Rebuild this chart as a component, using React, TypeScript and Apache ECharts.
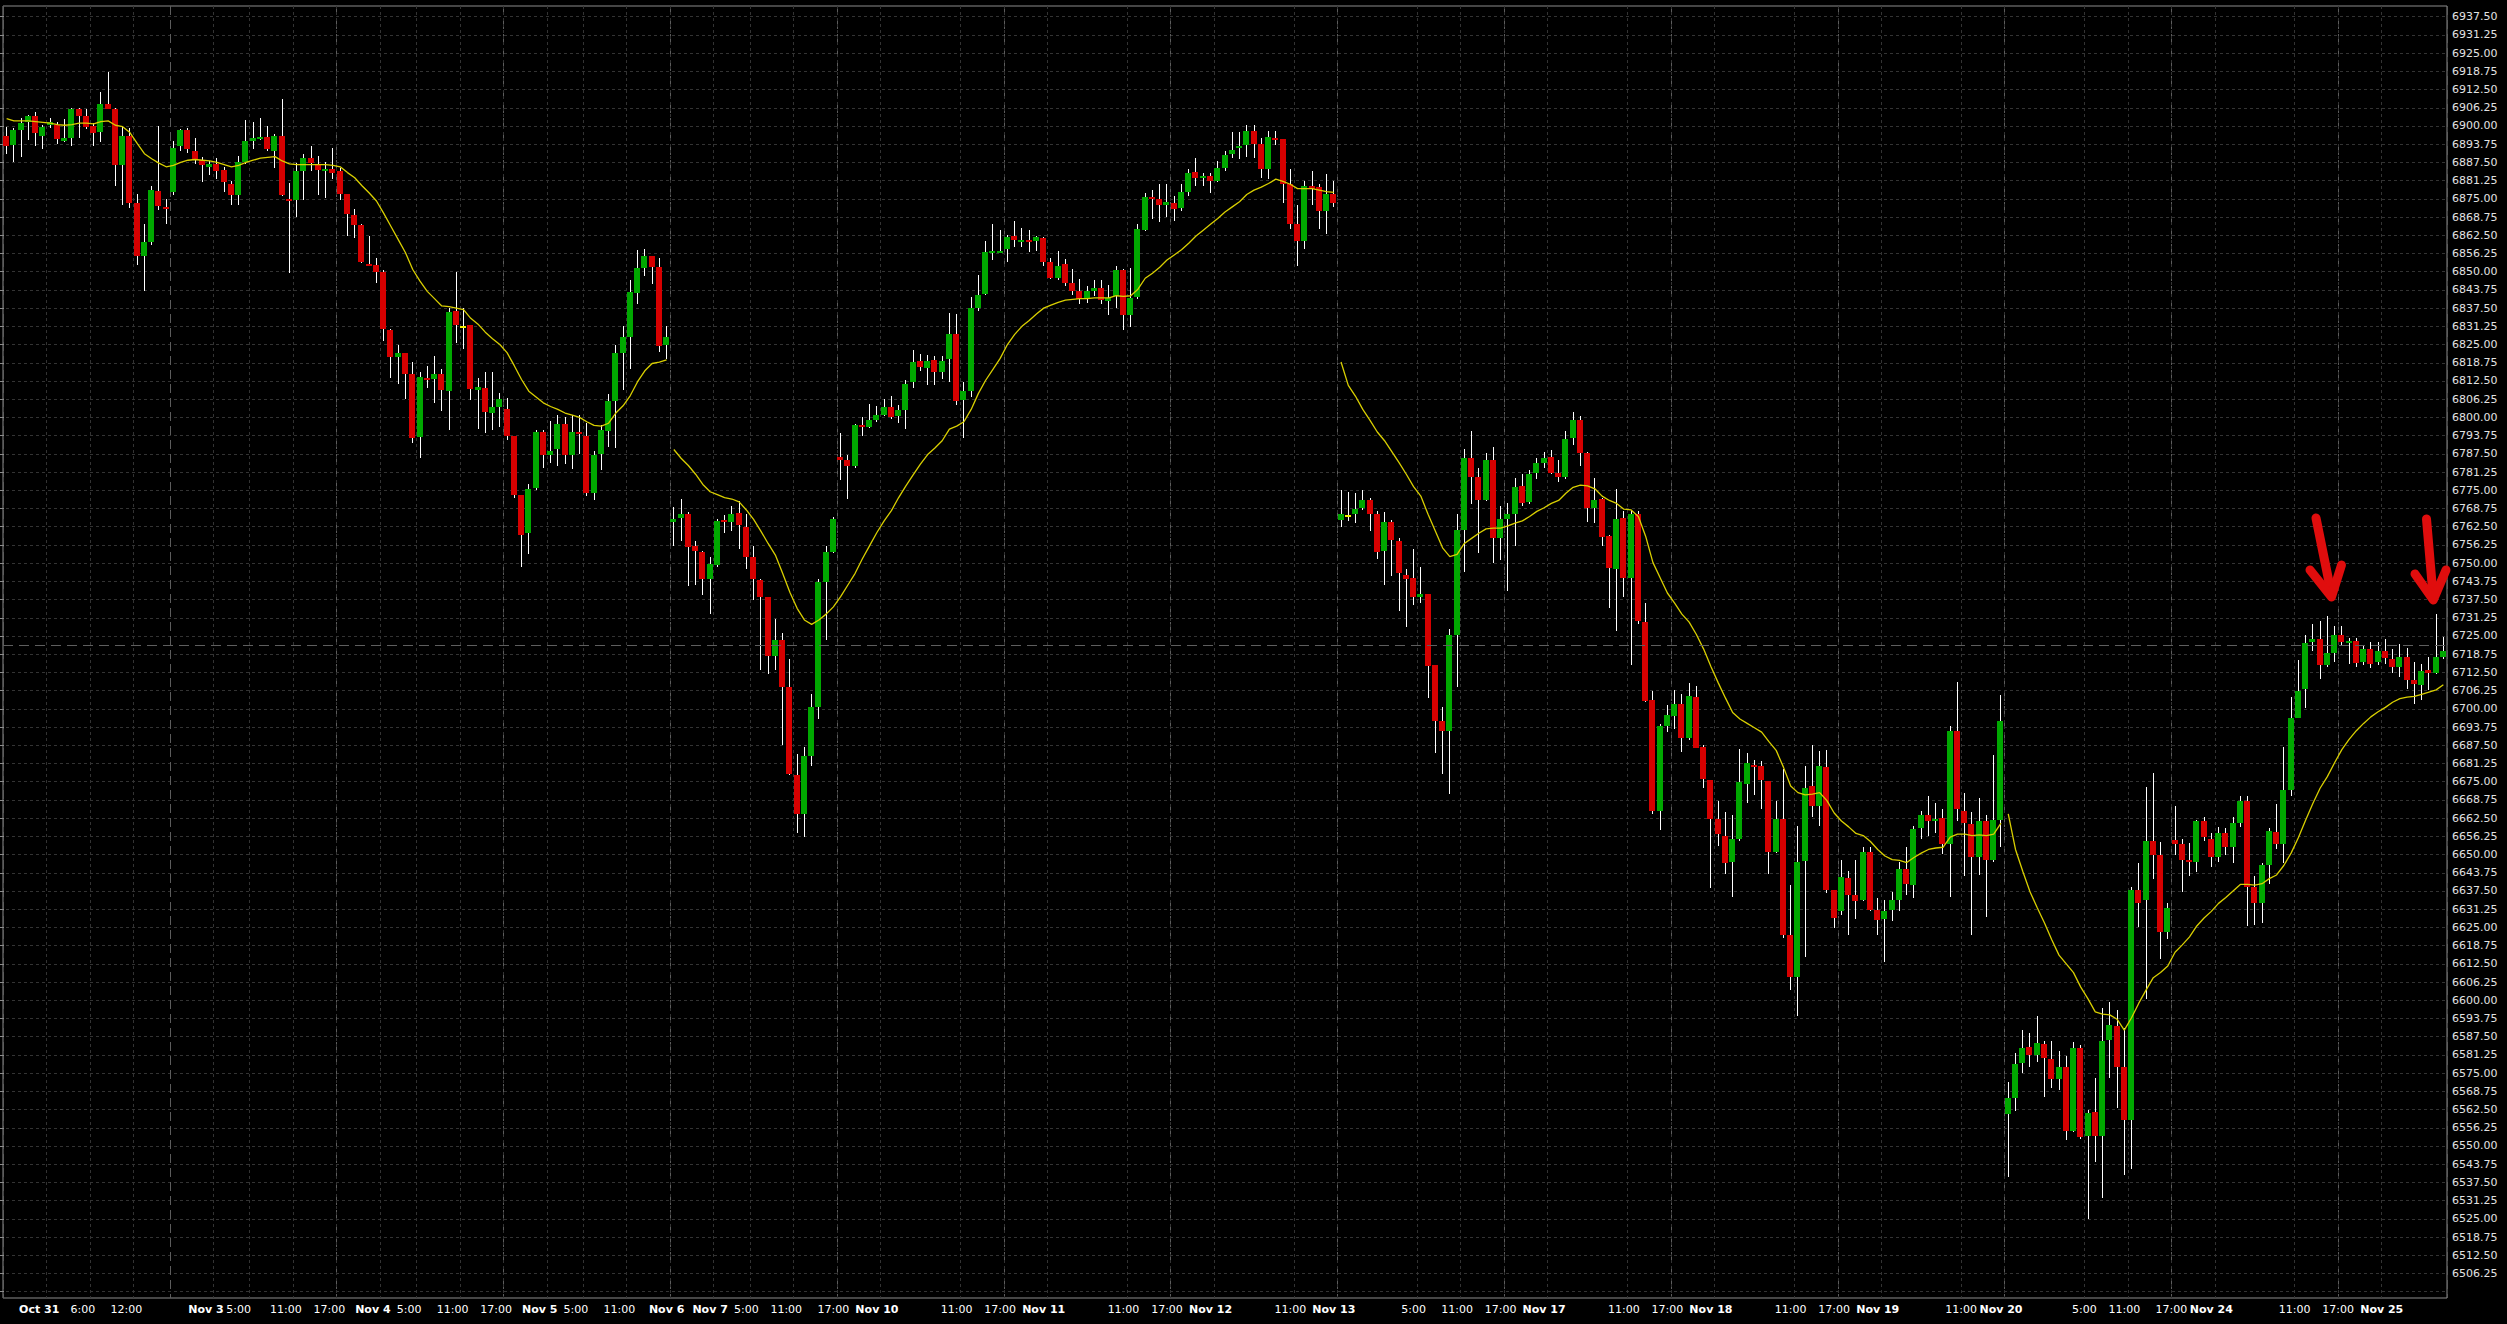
import React, { useEffect, useRef } from 'react';
import * as echarts from 'echarts';

// Hourly bars: [open, high, low, close]
const BARS: number[][] = [
  [6896.5,6899.75,6890.5,6893.25],[6893.5,6899.25,6887.5,6898.5],[6898.75,6902.75,6889.25,6901],[6901.25,6903.75,6895.25,6903.5],
  [6903.5,6904.75,6893,6897.5],[6896.5,6900.5,6892.25,6899.75],[6900.25,6902.75,6899.25,6901.25],[6900.5,6901.25,6893.75,6895.5],
  [6895,6902.25,6894.5,6896],[6896,6906.25,6893,6906],[6906,6906.25,6896,6903.5],[6903.5,6905.75,6899,6899.75],
  [6900,6901,6893,6897.75],[6898,6911.5,6894.5,6907.5],[6907.5,6918.5,6906,6906],[6906,6906.25,6879.5,6886.5],
  [6886.5,6899.75,6873,6896.5],[6896.5,6899.25,6872,6873.5],[6873.5,6876.5,6852.25,6855.25],[6855.25,6866.5,6843.25,6860.25],
  [6860.25,6879.5,6859.25,6878],[6877.75,6900,6871.25,6872.5],[6872.25,6875,6866.5,6871.75],
  [6877.5,6895,6876.25,6892.5],[6893,6899,6891.5,6898.5],[6898.5,6899.25,6890.75,6892],[6891.5,6896,6887,6888.5],
  [6888.5,6889.25,6880.75,6886.5],[6886,6888,6883.25,6887],[6887,6889,6881.75,6884.5],[6885,6886,6877.25,6880.75],
  [6880.25,6881,6873,6876.25],[6876.25,6889.75,6873,6887.5],[6887.5,6902,6887,6895],[6895,6901.25,6892,6896],
  [6895.75,6902.75,6895.25,6896.25],[6896.25,6900,6891.5,6892],[6891.5,6897.25,6885.5,6896.5],[6896.5,6909.25,6876,6876.25],
  [6875,6880.5,6849.5,6874.5],[6874.5,6887.25,6868.75,6884.5],[6884.5,6890.5,6874.5,6889],[6889,6893.25,6884.5,6887.25],
  [6886.75,6889.75,6876.25,6885],[6884.75,6887.5,6875.25,6885.25],[6885.25,6892.5,6881.75,6884],
  [6884.5,6885.5,6874.5,6876.5],[6876.5,6876.5,6862.25,6869.75],[6869.5,6871.5,6861.5,6866],[6866,6866.25,6853,6853.25],
  [6852.75,6862.25,6852,6852],[6852.25,6854.75,6846,6849.75],[6849.75,6850.5,6826.25,6830.5],[6830,6830.5,6813.5,6820.75],
  [6820.75,6824.75,6811.5,6822],[6822,6822,6806.25,6814.75],[6814.75,6819,6791.25,6793],[6793.25,6815.5,6786,6813.75],
  [6813.5,6817.5,6810.25,6812.75],[6813.25,6821,6805,6814.75],[6814.75,6816.5,6802.25,6809.25],[6809,6837.5,6795.75,6836.25],
  [6836.5,6849.75,6825.5,6831.75],[6831.25,6837.5,6823.5,6831.25],[6831.75,6831.75,6806,6809.75],[6809.25,6813.5,6796,6810.5],
  [6810.25,6815.75,6794.75,6801.75],[6801.5,6815.5,6795.75,6803.5],[6803.5,6808.5,6796.75,6806.25],
  [6803,6806.5,6792.25,6793.5],[6793.5,6793.5,6772.5,6773.5],[6773.5,6773.5,6748.75,6759.75],[6760.5,6777,6753.25,6775.5],
  [6775.75,6795.75,6775,6795],[6795,6795.75,6782.5,6787.25],[6787.25,6798.75,6784.5,6788.5],[6789.25,6801,6783.5,6797.75],
  [6797.75,6800,6784,6787.25],[6787.25,6800.75,6782.25,6795],[6795,6800.75,6787.5,6794.25],[6793.75,6798,6773,6774],
  [6774,6788.5,6771.5,6787.25],[6787.5,6797.5,6782,6795.75],[6795.5,6808,6790,6805.5],[6805.5,6824.75,6789.5,6822.25],
  [6822.25,6831.5,6809.25,6827.5],[6827.5,6847,6816.5,6843],[6842.75,6857.5,6838.75,6851.25],[6851.25,6857.75,6848.5,6855.5],
  [6855.25,6855.25,6845.75,6851.5],[6851.5,6854.75,6822.5,6824.5],[6825,6831.25,6820,6827.5],
  [6764.25,6769.25,6755.75,6765.25],[6765.5,6772,6757.5,6766.75],[6766.75,6767.5,6742.25,6755.5],[6755.75,6757.5,6742.5,6754],
  [6753.75,6754,6739,6744.5],[6744.5,6752,6732.5,6749.75],[6749.5,6765.25,6748.75,6764.5],[6764.75,6766.5,6760.5,6764.25],
  [6764.25,6769.75,6761,6767],[6767.25,6771.25,6755,6763],[6762.5,6766.75,6748,6752.25],[6752,6756,6737.25,6744.5],
  [6744.25,6744.5,6713.25,6738.5],[6738.25,6738.5,6712,6718.25],[6718.25,6731,6713.25,6723.5],[6723.5,6726,6687.75,6707.5],
  [6707.5,6717,6677.25,6677.5],[6677.25,6684.5,6657.25,6664],[6664,6687,6656,6683.75],[6683.75,6705,6680.25,6700.5],
  [6700.5,6744.5,6696.5,6743.5],[6743.5,6756,6723.5,6753.75],[6753.75,6766,6753.5,6765.25],
  [6786.25,6794.75,6778.5,6785.5],[6785.5,6787.25,6772,6783.5],[6783.5,6797.75,6782.75,6797.25],[6797.5,6800,6793.5,6796.75],
  [6796.75,6804.5,6796.25,6799],[6799,6803.75,6798.5,6801],[6801,6806.25,6800.5,6803.5],[6803.5,6807.5,6799.5,6800],
  [6800.5,6804.25,6798,6802.5],[6802.5,6813,6796,6811.5],[6812,6823.25,6810.25,6819],[6819.5,6821.75,6816,6817.25],
  [6817,6821.5,6811,6819.5],[6819.75,6821,6811,6815.5],[6815.5,6821,6813.25,6819.5],[6820,6835.75,6812.25,6828.75],
  [6828.75,6835.5,6804.25,6805.5],[6806,6812.25,6793,6809],[6809,6841.25,6807,6837.5],[6837.5,6849,6836.5,6842],
  [6842.5,6860.5,6842,6856.75],[6856.5,6866.25,6854,6857],[6856.5,6864.25,6856.5,6857],[6857.75,6862.5,6853.5,6862],
  [6862.25,6867.5,6858.5,6860.75],[6860.5,6865,6858.5,6861],[6861,6864.25,6856.75,6860.5],[6860.5,6862.25,6857,6862],
  [6861.5,6862,6852,6853.5],[6853.25,6854.75,6847.5,6847.75],[6847.75,6857,6847,6852],[6852.5,6854.25,6845,6846.25],
  [6846,6851,6842,6843.25],[6843.5,6847.5,6839,6840.5],[6840.5,6845,6839.25,6843.25],[6843.25,6847,6841.75,6844.5],
  [6844.5,6847,6839,6840.25],[6840,6845.5,6835.25,6841],[6841.75,6852,6837.5,6850.5],[6850.5,6851,6830,6835],
  [6835,6851.25,6831,6841],[6841.25,6866.25,6840.5,6864.5],[6864.25,6877,6864,6875.5],[6875.5,6878,6868,6875.25],
  [6875,6880,6867,6873],[6873,6880.25,6868.75,6874],[6873.5,6876,6867.5,6871.5],[6871.75,6880.25,6870.75,6877.25],
  [6877.25,6885.25,6876,6884],[6884.25,6889,6879.5,6882.25],[6882,6883.75,6879.5,6882.75],[6882.75,6884,6877,6881],
  [6881,6888,6880.75,6885.75],[6885.75,6891.5,6884.5,6890],[6890.25,6898,6889,6891.75],[6892.5,6898,6888.75,6893.25],
  [6893.5,6900.25,6889.5,6898.25],[6898.25,6900.25,6889,6893.75],[6893.75,6895.75,6882.25,6885.25],[6885.25,6898.25,6881.75,6896.25],
  [6895.75,6898.25,6893.5,6895.25],[6895.5,6895.5,6873.5,6880.25],[6880.25,6885.25,6864.5,6866.5],[6866.5,6873,6852,6860.5],
  [6860.5,6881,6857.75,6879.25],[6879.25,6884.5,6873,6878.5],[6879,6880,6864.5,6870.75],[6870.75,6883.5,6863,6876.5],
  [6876.5,6881,6872.25,6873.5],
  [6764.75,6775,6762.5,6767],[6766.5,6774.5,6764.5,6766.5],[6766.75,6774,6763.75,6768.5],[6769,6775,6768.25,6771.5],
  [6771.5,6772.5,6761,6767],[6766.75,6768,6751.25,6753.75],[6754.25,6767.5,6742.5,6764],[6764,6764.75,6745.75,6758],
  [6757.5,6758.5,6733.5,6746.5],[6746,6748,6728.25,6744.5],[6745,6754.75,6735.5,6738.5],[6738.5,6748.75,6736.25,6739.25],
  [6739.25,6739.25,6703.75,6714.75],[6715,6715,6685,6695.75],[6695.75,6700.75,6677.75,6692.5],[6692.25,6727.25,6670.75,6725.5],
  [6725.5,6766.75,6707.5,6761.5],[6761.5,6789,6747,6786],[6786,6795.5,6770.25,6779.5],[6779.5,6782.5,6753.5,6771.5],
  [6771.5,6787.75,6771.25,6785.25],[6785.25,6789.75,6750,6758.5],[6758.5,6769.5,6751,6765.25],[6765,6770.5,6740.5,6766.75],
  [6767,6779.25,6755.75,6776],[6776.5,6780.5,6769.75,6770.75],[6771,6782,6770.25,6780.75],[6781,6786,6779,6784.25],
  [6784.5,6788,6782.5,6786],[6786.25,6788.75,6780.75,6781],[6781,6785.5,6777.75,6779.5],[6779.5,6795.25,6779,6792.5],
  [6793,6801.75,6790.5,6799.25],[6799.25,6800.5,6783.5,6787.75],[6787.75,6788,6764.25,6768.75],[6769,6779.25,6763.75,6771.5],
  [6772,6772.25,6755.75,6759],[6759.25,6759.5,6734.5,6748.25],[6748,6775.5,6726.75,6765.25],[6765.5,6768,6738.5,6744.75],
  [6744.75,6768,6715,6767],[6767,6767.75,6729,6730],[6729.75,6736.25,6702.25,6702.75],[6703,6706.25,6664,6665],
  [6665,6694.75,6658.5,6694.25],[6694.25,6701.25,6692,6697.75],[6697.5,6706.5,6693,6701.75],[6701.75,6705.25,6685.25,6690],
  [6690,6709,6689.25,6704.5],[6704,6708,6686.5,6686.5],[6687,6687.5,6673,6676],[6675.75,6675.75,6638.5,6662.25],
  [6662.25,6668.25,6653,6657],[6656.5,6664.5,6643.25,6647],[6647.5,6663.5,6635.5,6655.25],[6655.25,6686.25,6654.5,6674.75],
  [6674.25,6685,6667.75,6681.25],[6680.75,6682.5,6670.5,6680.25],[6680.25,6682.25,6665.75,6675.75],[6675.25,6675.25,6643.25,6650.75],
  [6651,6668.25,6650.5,6662.25],[6662.25,6679.5,6621.5,6622.25],[6622.25,6639.5,6603.5,6608],[6608,6659.75,6594.5,6647.5],
  [6647.75,6680.25,6615,6673],[6673.5,6687.75,6663,6666.75],[6666.75,6685.5,6659.75,6680.25],[6680,6685.75,6636.75,6638],
  [6638,6638,6624.75,6628.25],[6630.75,6648.25,6629.25,6642.25],[6642,6644.25,6622.5,6636.25],[6636,6648,6628,6634],
  [6634.5,6652.5,6634,6651],[6650.75,6652.75,6630.75,6631],[6631,6635,6622.25,6627.5],[6628,6634.25,6613.25,6630.5],
  [6631,6637,6627.25,6634.5],[6634.5,6647.5,6630.5,6645],[6645,6652.75,6636.25,6639.75],[6639.5,6659.75,6635.25,6658.75],
  [6659,6665,6655.25,6663.5],[6663.5,6670,6656.5,6661.5],[6661.5,6667.75,6657.5,6662.25],[6662.5,6665.75,6650.25,6653.5],
  [6653.5,6694.25,6635.5,6692.25],[6692.25,6709.25,6661.5,6665.75],[6665,6671,6642.75,6660.75],[6660.5,6664.75,6622.5,6649],
  [6649,6669.25,6643,6661.5],[6661.5,6663.5,6628.5,6648.25],[6648.25,6684,6647.5,6662],[6662,6704.75,6652.5,6695.75],
  [6561,6572,6539.25,6566.5],[6566.5,6582,6562,6578],[6578.5,6589.75,6575,6583.5],[6584,6588.75,6577,6581.25],
  [6581.25,6594.5,6578.75,6585.25],[6585,6586,6566.75,6580.25],[6579.75,6586,6570,6573],[6573,6582.75,6569.25,6577],
  [6577.25,6581,6552,6555],[6555,6585.75,6554.75,6583.5],[6583.5,6584.75,6552.25,6553],[6553.5,6562.25,6525,6561.25],
  [6561.5,6573.25,6544.5,6553.5],[6553.5,6597.5,6532,6586],[6586.5,6599.5,6573.25,6591.5],[6591.25,6596.75,6563,6577],
  [6577,6590.5,6540,6559],[6559,6639,6542,6638],[6638,6647.25,6625.25,6633.5],[6634.25,6673.25,6600.5,6654.5],
  [6654.5,6678,6641.75,6650],[6649.75,6654.25,6614,6623.5],[6623.5,6633.25,6621,6631.75],
  [6655,6666.5,6650,6653.75],[6653.5,6655.5,6637.25,6648.25],[6648,6654,6642.5,6647.5],[6647.5,6661.75,6644,6661.5],
  [6661.5,6662.75,6654.5,6656],[6655.5,6657.25,6645.75,6649],[6649.25,6659.5,6647.5,6657.25],[6657.25,6659,6650,6652.75],
  [6652.75,6663,6647,6660.75],[6660.75,6670,6659.5,6668.25],[6668.25,6670.25,6625.5,6638.75],[6639,6642.5,6626,6633.5],
  [6633.25,6647,6626.5,6646.25],[6646.25,6659,6639.75,6658],[6657.75,6667.5,6651.75,6653.75],[6653.75,6687,6647,6672],
  [6672,6704,6670.25,6697],[6697,6716.75,6696.75,6706],[6706.75,6725.5,6700.25,6722.5],[6723,6729.25,6720,6724],
  [6724,6730.25,6710.25,6715],[6715,6732,6714.5,6719],[6719,6728.5,6716,6725.5],
  [6725.5,6728.5,6722,6723],[6722.5,6724.25,6715.5,6723.25],[6723.25,6724.25,6714.5,6715.75],[6716,6721.5,6715,6720.5],
  [6720.5,6723,6714,6715.5],[6716,6723,6715,6720],[6720,6724,6715.5,6717.5],[6717,6720.5,6712.25,6714.25],
  [6714.5,6722.25,6711,6717.75],[6717.75,6720.75,6706.75,6710],[6710,6716,6701.75,6708.5],[6708.25,6715.5,6703,6713],
  [6713.25,6717.75,6706.5,6712.25],[6712.25,6732.5,6712,6717.75],[6717.75,6724.75,6717,6720]
];

// Yellow moving average, one value per bar
const MA: number[] = [
  6902.5,6901.75,6901.75,6901.75,6901.5,6901.25,6901,6900.5,6900.25,6900.5,6901,6901,6900.75,6901.5,6901.75,6900.25,
  6899.75,6897.75,6894,6890.5,6888.75,6887.25,6886,6886.5,6887.5,6888.25,6888.5,6888.25,6888,6887.5,6886.75,6886,
  6886.5,6887.5,6888.25,6889,6889.25,6889.5,6888,6887,6886.75,6886.75,6886.75,6886.75,6886.75,6886.5,6886,6884,
  6882.25,6879.5,6877,6874.25,6870,6865.5,6861,6856.5,6850.75,6846.75,6843.25,6840.75,6838.25,6838,6837.5,6837,
  6834,6832,6829.25,6827,6825,6822.25,6817.75,6813,6809,6807,6805,6803.75,6802.75,6801.5,6800.75,6800,
  6798.5,6797.25,6797,6798,6801.5,6804,6807.5,6812.25,6816,6818.5,6819,6819.75,
  6789,6786,6783.5,6780.5,6777,6774.5,6773.5,6772.5,6772,6771,6768.25,6765,6761,6756.75,6752.75,6746.5,
  6740,6734.5,6730.5,6729,6730.5,6732.5,6735,6738.5,6742.5,6746.5,6751.5,6756,6760.5,6764.5,6768,6772.5,
  6776.5,6780.25,6784,6787.25,6789.5,6792,6796,6797,6798.5,6802.75,6808.25,6812.75,6816.5,6820.25,6825,6828.5,
  6831.25,6833.25,6835.5,6837.5,6838.5,6839.5,6840.25,6840.5,6840.75,6840.75,6841,6841,6841,6841.75,6841.5,6841.75,
  6844,6847.75,6849.5,6851.5,6854,6855.75,6857.5,6859.75,6862.25,6864.25,6866.25,6868.25,6870.5,6872.25,6874,6876.5,
  6878,6879,6880.25,6881.75,6881,6880,6878.5,6878.5,6878.5,6878,6877.5,6877.25,
  6819,6811,6807.25,6802.75,6799,6795,6792,6788.25,6784.5,6780.5,6776.25,6773,6766.75,6761,6755.25,6752.25,
  6753,6756.75,6758.5,6760.25,6761.75,6762,6762,6762.75,6763.75,6764.5,6766,6767.75,6769,6770.5,6771.5,6774,
  6776,6776.75,6776.5,6775.5,6773,6771.5,6770.5,6768.5,6768.25,6766,6759.25,6750.25,6745,6739.75,6736.25,6732.5,
  6729.75,6725.5,6720.5,6714.5,6709,6703.75,6698.75,6696.5,6695,6693.5,6692,6688.75,6685.75,6680,6673.5,6671.25,
  6670.5,6670.75,6671.25,6668.5,6664.25,6661.5,6659.5,6657.25,6656.5,6654.5,6651.75,6649.5,6648.25,6648,6647.25,6649,
  6650.5,6651.75,6652.25,6652.5,6656,6657,6657,6656.5,6656.75,6656.5,6657,6660.75,
  6664,6651.75,6644.25,6637.25,6631.75,6626.5,6620.75,6615.5,6612.5,6609.5,6604.5,6600.5,6596,6595.25,6595,6593.5,
  6589.75,6594,6599,6603.5,6607.75,6609.5,6611.75,6616.5,6619,6621.75,6625.5,6628.25,6630.5,6633.25,6635.25,6637.5,
  6639.75,6639.75,6639.5,6640,6641.75,6643,6646.25,6650.5,6655.75,6661.75,6667.5,6672.75,6676.75,6681.5,6686,6689.5,
  6692.5,6695,6697.25,6699,6700.5,6702.25,6703.5,6704,6704.25,6705,6705.75,6706.5,6708.25
];

// first bar of each data session (the average is not joined across these gaps)
const SESSION_STARTS = [0, 92, 184, 276];

// time-axis labels and their position in bar units
const TICK_LABELS = ['Oct 31','6:00','12:00','Nov 3','5:00','11:00','17:00','Nov 4','5:00','11:00','17:00','Nov 5','5:00','11:00',
  'Nov 6','Nov 7','5:00','11:00','17:00','Nov 10','11:00','17:00','Nov 11','11:00','17:00','Nov 12','11:00','Nov 13','5:00','11:00',
  '17:00','Nov 17','11:00','17:00','Nov 18','11:00','17:00','Nov 19','11:00','Nov 20','5:00','11:00','17:00','Nov 24','11:00','17:00','Nov 25'];
const TICK_POS = [4.5,10.5,16.5,27.5,32,38.5,44.5,50.5,55.5,61.5,67.5,73.5,78.5,84.5,91,97,102,107.5,114,120,131,137,143,154,160,166,
  177,183,194,200,206,212,223,229,235,246,252,258,269.5,275,286.5,292,298.5,304,315.5,321.5,327.5];
// bar boundaries carrying a minor vertical grid line
const MINOR_GRID = [6,12,18,29,34,40,46,52,57,63,69,75,80,86,92,98,103,109,115,121,132,138,144,155,161,167,178,184,195,201,207,213,
  224,230,236,247,253,259,270,276,287,293,299,305,316,322,328];
const MAJOR_EVERY = 23;

const Y_MIN = 6500;
const Y_MAX = 6937.5;
const Y_STEP = 6.25;
const CURSOR_PRICE = 6721.75;

const UP = '#00a800';
const DOWN = '#d60000';
const DOJI = '#f2f200';
const FONT = 'DejaVu Sans';

export default function App() {
  const ref = useRef<HTMLDivElement>(null);
  useEffect(() => {
    document.body.style.margin = '0';
    document.body.style.background = '#000';
    document.body.style.overflow = 'hidden';
    const chart = echarts.init(ref.current as HTMLDivElement, null, { renderer: 'svg' });

    const N = BARS.length;
    // plot frame
    const L = 0, W = 2447;
    const A_TOP = 6, A_BOT = 1298; // frame (candles)
    const B_TOP = 16.7, B_BOT = 1291.7; // price scale Y_MAX..Y_MIN
    const k = (B_BOT - B_TOP) / (Y_MAX - Y_MIN);
    const aMax = Y_MAX + (B_TOP - A_TOP) / k;
    const aMin = Y_MIN - (A_BOT - B_BOT) / k;

    const labelAt: Record<number, string> = {};
    TICK_POS.forEach((p, n) => { labelAt[Math.round(2 * p + 1)] = TICK_LABELS[n]; });
    const minorSet = new Set(MINOR_GRID.map((b) => 2 * b));

    const maSeries = SESSION_STARTS.map((start, s) => {
      const end = s + 1 < SESSION_STARTS.length ? SESSION_STARTS[s + 1] : N;
      return {
        type: 'line',
        xAxisIndex: 0,
        yAxisIndex: 0,
        data: MA.map((v, i) => (i >= start && i < end ? v : '-')),
        showSymbol: false,
        symbol: 'none',
        silent: true,
        z: 4,
        lineStyle: { color: '#d9cf00', width: 1.3 },
        markLine: s === 0 ? {
          symbol: 'none',
          silent: true,
          label: { show: false },
          lineStyle: { color: '#5e5e5e', type: [10, 6], width: 1 },
          data: [{ yAxis: CURSOR_PRICE }],
        } : undefined,
      };
    });

    const red = '#e00d0d';
    const arrowStyle = { stroke: red, lineWidth: 9, lineCap: 'round', lineJoin: 'round' };

    const option: any = {
      animation: false,
      backgroundColor: '#000000',
      grid: [
        { left: L, top: A_TOP, width: W, height: A_BOT - A_TOP, show: true, borderColor: '#8c8c8c', borderWidth: 1, backgroundColor: 'transparent' },
        { left: L, top: B_TOP, width: W, height: B_BOT - B_TOP },
      ],
      xAxis: [
        {
          type: 'category', gridIndex: 0, position: 'bottom', boundaryGap: true,
          data: BARS.map((_, i) => String(i)),
          axisLine: { show: false }, axisTick: { show: false }, axisLabel: { show: false },
          splitLine: { show: true, interval: MAJOR_EVERY - 1, lineStyle: { color: '#5c5c5c', type: [9, 5], width: 1 } },
        },
        {
          type: 'category', gridIndex: 0, position: 'bottom', boundaryGap: false,
          data: Array.from({ length: 2 * N + 1 }, (_, j) => String(j)),
          axisLine: { show: false }, axisTick: { show: false },
          axisLabel: {
            show: true, interval: 0, margin: 6, hideOverlap: false,
            formatter: (_v: string, idx: number) => {
              const t = labelAt[idx];
              if (!t) return '';
              return /^[A-Z]/.test(t) ? `{d|${t}}` : `{t|${t}}`;
            },
            rich: {
              d: { fontFamily: FONT, fontSize: 11, fontWeight: 'bold', color: '#ffffff' },
              t: { fontFamily: FONT, fontSize: 11, color: '#ffffff' },
            },
          },
          splitLine: { show: true, interval: (idx: number) => minorSet.has(idx), lineStyle: { color: '#333333', type: [3, 3], width: 1 } },
        },
        { type: 'value', gridIndex: 1, show: false, min: 0, max: 1 },
      ],
      yAxis: [
        { type: 'value', gridIndex: 0, min: aMin, max: aMax, show: false },
        {
          type: 'value', gridIndex: 1, position: 'right', min: Y_MIN, max: Y_MAX, interval: Y_STEP,
          axisLine: { show: false },
          axisTick: { show: true, length: 4, lineStyle: { color: '#8c8c8c' } },
          axisLabel: {
            margin: 5, color: '#e2e2e2', fontFamily: FONT, fontSize: 11,
            formatter: (v: number) => (v <= Y_MIN ? '' : v.toFixed(2)),
          },
          splitLine: { show: true, lineStyle: { color: '#333333', type: [3, 3], width: 1 } },
        },
      ],
      series: [
        {
          type: 'custom',
          xAxisIndex: 0,
          yAxisIndex: 0,
          z: 3,
          silent: true,
          data: BARS.map(([o, h, l, c], i) => [i, o, c, l, h]),
          encode: { x: 0, y: [1, 2, 3, 4] },
          renderItem: (_params: any, api: any) => {
            const i = api.value(0);
            const o = api.value(1), c = api.value(2), lo = api.value(3), hi = api.value(4);
            const pO = api.coord([i, o]);
            const yC = api.coord([i, c])[1];
            const yL = api.coord([i, lo])[1];
            const yH = api.coord([i, hi])[1];
            const slot = api.size([1, 0])[0];
            const bw = Math.max(1, Math.round(slot * 0.83));
            const cx = Math.floor(pO[0]);
            const top = Math.round(Math.min(pO[1], yC));
            let bot = Math.round(Math.max(pO[1], yC));
            if (bot - top < 2) bot = top + 2;
            const fill = c > o ? UP : c < o ? DOWN : DOJI;
            return {
              type: 'group',
              children: [
                { type: 'line', shape: { x1: cx + 0.5, y1: Math.round(yH), x2: cx + 0.5, y2: Math.round(yL) }, style: { stroke: '#ffffff', lineWidth: 1 } },
                { type: 'rect', shape: { x: cx - Math.floor(bw / 2), y: top, width: bw, height: bot - top }, style: { fill } },
              ],
            };
          },
        },
        ...maSeries,
      ],
      graphic: [
        { type: 'polyline', z: 100, shape: { points: [[2316, 518], [2331, 592]] }, style: arrowStyle },
        { type: 'polyline', z: 100, shape: { points: [[2310, 570], [2331.5, 597], [2341.5, 565]] }, style: arrowStyle },
        { type: 'polyline', z: 100, shape: { points: [[2426.5, 519], [2433, 595]] }, style: arrowStyle },
        { type: 'polyline', z: 100, shape: { points: [[2415, 574], [2433.3, 600], [2446, 570]] }, style: arrowStyle },
      ],
    };

    chart.setOption(option);
    return () => chart.dispose();
  }, []);
  return <div ref={ref} style={{ position: 'fixed', left: 0, top: 0, width: 2507, height: 1324, background: '#000' }} />;
}
